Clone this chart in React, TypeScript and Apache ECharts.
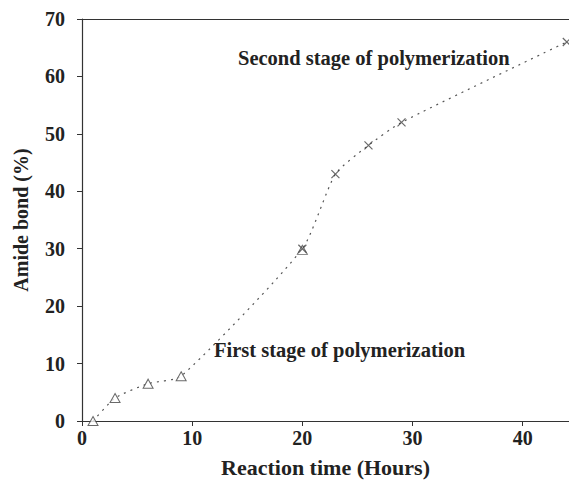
import React, { useEffect, useRef } from "react";
import * as echarts from "echarts";

const stage1X = [1, 3, 6, 9, 20];
const stage1Y = [0, 4, 6.5, 7.8, 29.8];
const stage2X = [20, 23, 26, 29, 44];
const stage2Y = [30, 43, 48, 52, 66];
const curveX = [1, 3, 6, 9, 20, 23, 26, 29, 44];
const curveY = [0, 4, 6.5, 7.8, 30, 43, 48, 52, 66];
const xTicks = [0, 10, 20, 30, 40];
const yTicks = [0, 10, 20, 30, 40, 50, 60, 70];
const texts = {
  xName: "Reaction time (Hours)",
  yName: "Amide bond (%)",
  first: "First stage of polymerization",
  second: "Second stage of polymerization",
};

const FONT = "'Liberation Serif', 'Times New Roman', serif";
const AX = "#333";

export default function App() {
  const ref = useRef<HTMLDivElement>(null);
  useEffect(() => {
    if (!ref.current) return;
    document.body.style.margin = "0";
    document.body.style.overflow = "hidden";
    const chart = echarts.init(ref.current, null, { renderer: "svg" });
    const zip = (xs: number[], ys: number[]) => xs.map((x, i) => [x, ys[i]]);
    chart.setOption({
      animation: false,
      backgroundColor: "#fff",
      grid: { left: 82, right: 0, top: 19, bottom: 60, containLabel: false, outerBoundsMode: "none" },
      xAxis: [
        {
          type: "value",
          min: 0,
          max: 44.2,
          interval: 10,
          name: texts.xName,
          nameLocation: "middle",
          nameGap: 35,
          nameTextStyle: { fontFamily: FONT, fontWeight: "bold", fontSize: 22, color: "#222" },
          axisLine: { show: true, lineStyle: { color: AX, width: 1.2 } },
          axisTick: { show: true, inside: false, length: 5, lineStyle: { color: AX } },
          axisLabel: {
            fontFamily: FONT,
            fontWeight: "bold",
            fontSize: 20,
            color: "#222",
            margin: 7,
            formatter: (v: number) => (xTicks.includes(v) ? String(v) : ""),
          },
          splitLine: { show: false },
        },
        {
          type: "value",
          position: "top",
          min: 0,
          max: 44.2,
          axisLine: { show: true, lineStyle: { color: AX, width: 1.2 } },
          axisTick: { show: false },
          axisLabel: { show: false },
          splitLine: { show: false },
        },
      ],
      yAxis: {
        type: "value",
        min: 0,
        max: 70,
        interval: 10,
        name: texts.yName,
        nameLocation: "middle",
        nameGap: 51,
        nameTextStyle: { fontFamily: FONT, fontWeight: "bold", fontSize: 20, color: "#222" },
        axisLine: { show: true, lineStyle: { color: AX, width: 1.2 } },
        axisTick: { show: true, inside: false, length: 5, lineStyle: { color: AX } },
        axisLabel: {
          fontFamily: FONT,
          fontWeight: "bold",
          fontSize: 20,
          color: "#222",
          margin: 17,
          formatter: (v: number) => (yTicks.includes(v) ? String(v) : ""),
        },
        splitLine: { show: false },
      },
      graphic: [
        {
          type: "text",
          x: 238,
          y: 58,
          style: {
            text: texts.second,
            font: `bold 20.5px ${FONT}`,
            fill: "#222",
            textVerticalAlign: "middle",
            verticalAlign: "middle",
          },
        },
        {
          type: "text",
          x: 214,
          y: 350,
          style: {
            text: texts.first,
            font: `bold 20.5px ${FONT}`,
            fill: "#222",
            textVerticalAlign: "middle",
            verticalAlign: "middle",
          },
        },
      ],
      series: [
        {
          type: "line",
          data: zip(curveX, curveY),
          smooth: 0.2,
          showSymbol: false,
          symbol: "none",
          lineStyle: { color: "#555", width: 1.2, type: [2, 5] },
          z: 1,
        },
        {
          type: "scatter",
          data: zip(stage1X, stage1Y),
          symbol: "triangle",
          symbolSize: [10, 9],
          itemStyle: { color: "#fff", borderColor: "#444", borderWidth: 1 },
          z: 3,
        },
        {
          type: "scatter",
          data: zip(stage2X, stage2Y),
          symbol: "path://M0,0L10,10M10,0L0,10",
          symbolSize: 8,
          itemStyle: { color: "none", borderColor: "#444", borderWidth: 1.2 },
          z: 4,
        },
      ],
    });
    return () => chart.dispose();
  }, []);
  return (
    <div
      ref={ref}
      style={{ position: "fixed", left: 0, top: 0, width: 569, height: 481 }}
    />
  );
}
